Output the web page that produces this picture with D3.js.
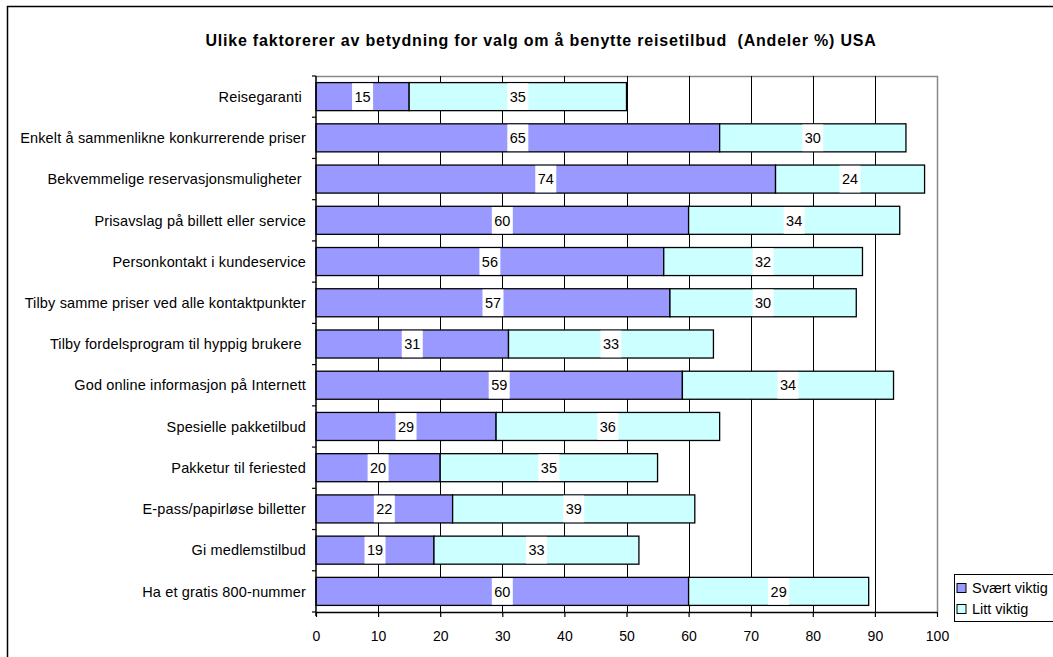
<!DOCTYPE html>
<html>
<head>
<meta charset="utf-8">
<script src="https://cdn.jsdelivr.net/npm/d3@7"></script>
<style>
  html, body { margin: 0; padding: 0; background: #fff; }
  svg { display: block; font-family: "Liberation Sans", Arial, sans-serif; }
  text { white-space: pre; }
</style>
</head>
<body>
<svg id="chart" width="1053" height="657"></svg>
<script>
// Factors affecting choice of travel services, USA (shares, %)
const categories = [
  "Reisegaranti ",
  "Enkelt å sammenlikne konkurrerende priser",
  "Bekvemmelige reservasjonsmuligheter ",
  "Prisavslag på billett eller service",
  "Personkontakt i kundeservice",
  "Tilby samme priser ved alle kontaktpunkter",
  "Tilby fordelsprogram til hyppig brukere ",
  "God online informasjon på Internett",
  "Spesielle pakketilbud",
  "Pakketur til feriested",
  "E-pass/papirløse billetter",
  "Gi medlemstilbud",
  "Ha et gratis 800-nummer"
];
const svaertViktig = [15, 65, 74, 60, 56, 57, 31, 59, 29, 20, 22, 19, 60];
const littViktig   = [35, 30, 24, 34, 32, 30, 33, 34, 36, 35, 39, 33, 29];
const seriesNames  = ["Svært viktig", "Litt viktig"];
const xTicks = [0, 10, 20, 30, 40, 50, 60, 70, 80, 90, 100];
const title = "Ulike faktorerer av betydning for valg om å benytte reisetilbud  (Andeler %) USA";

const colors = ["#9999FF", "#CCFFFF"];
const FONT = "'Liberation Sans', Arial, sans-serif";

const svg = d3.select("#chart");

// outer frame
svg.append("rect")
  .attr("x", 7.5).attr("y", 6.5)
  .attr("width", 1100).attr("height", 700)
  .attr("fill", "none").attr("stroke", "#000").attr("stroke-width", 1.5);

svg.append("text")
  .attr("x", 541).attr("y", 46)
  .attr("text-anchor", "middle")
  .attr("font-size", 16).attr("font-weight", "bold")
  .attr("letter-spacing", 0.8)
  .text(title);

const plot = { left: 316, right: 937, top: 76, bottom: 612 };

const x = d3.scaleLinear().domain([0, 100]).range([plot.left, plot.right]);
const y = d3.scaleBand().domain(categories).range([plot.top, plot.bottom])
  .paddingInner(0.32).paddingOuter(0.16);

// plot border (top/right grey)
svg.append("path")
  .attr("d", `M${plot.left},${plot.top + 0.5}H${plot.right + 0.5}V${plot.bottom}`)
  .attr("fill", "none").attr("stroke", "#888").attr("stroke-width", 1.5);

// vertical gridlines
svg.append("g")
  .selectAll("line")
  .data(xTicks.slice(1, -1))
  .join("line")
  .attr("x1", d => Math.round(x(d)) + 0.5).attr("x2", d => Math.round(x(d)) + 0.5)
  .attr("y1", plot.top).attr("y2", plot.bottom)
  .attr("stroke", "#000").attr("stroke-width", 1);

// stacked segments
const rows = categories.map((c, i) => ({
  cat: c,
  segs: [
    { s: 0, x0: 0, x1: svaertViktig[i], v: svaertViktig[i] },
    { s: 1, x0: svaertViktig[i], x1: svaertViktig[i] + littViktig[i], v: littViktig[i] }
  ]
}));

const rowG = svg.append("g").selectAll("g")
  .data(rows).join("g");

rowG.selectAll("rect")
  .data(d => d.segs.map(s => ({ ...s, cat: d.cat })))
  .join("rect")
  .attr("x", d => x(d.x0))
  .attr("y", d => y(d.cat))
  .attr("width", d => x(d.x1) - x(d.x0))
  .attr("height", y.bandwidth())
  .attr("fill", d => colors[d.s])
  .attr("stroke", "#000").attr("stroke-width", 1.3);

// value labels on white boxes
const lab = rowG.selectAll("g.lab")
  .data(d => d.segs.map(s => ({ ...s, cat: d.cat })))
  .join("g").attr("class", "lab")
  .attr("transform", d => `translate(${x((d.x0 + d.x1) / 2)},${y(d.cat) + y.bandwidth() / 2})`);

lab.append("rect")
  .attr("x", -10.5).attr("y", -y.bandwidth() / 2 + 0.7)
  .attr("width", 21).attr("height", y.bandwidth() - 1.4)
  .attr("fill", "#fff");

lab.append("text")
  .attr("text-anchor", "middle").attr("dy", "0.36em")
  .attr("font-size", 14.5)
  .text(d => d.v);

// y axis
const yAxis = svg.append("g");
yAxis.append("line")
  .attr("x1", plot.left).attr("x2", plot.left)
  .attr("y1", plot.top).attr("y2", plot.bottom + 4)
  .attr("stroke", "#000").attr("stroke-width", 1.5);
const bounds = categories.map(c => y(c) - y.step() * y.paddingInner() / 2);
bounds.push(plot.bottom);
bounds[0] = plot.top;
yAxis.selectAll("line.tk").data(bounds).join("line").attr("class", "tk")
  .attr("x1", plot.left - 4).attr("x2", plot.left)
  .attr("y1", d => d).attr("y2", d => d)
  .attr("stroke", "#000").attr("stroke-width", 1.2);
yAxis.selectAll("text").data(categories).join("text")
  .attr("x", plot.left - 10)
  .attr("y", d => y(d) + y.bandwidth() / 2)
  .attr("dy", "0.36em")
  .attr("text-anchor", "end")
  .attr("font-size", 14.5)
  .attr("letter-spacing", 0.15)
  .text(d => d);

// x axis
const xAxis = svg.append("g").attr("transform", `translate(0,${plot.bottom})`)
  .call(d3.axisBottom(x).tickValues(xTicks).tickSize(5).tickPadding(14).tickSizeOuter(0));
xAxis.select(".domain").attr("stroke", "#000").attr("stroke-width", 1.5);
xAxis.selectAll(".tick line").attr("stroke", "#000").attr("stroke-width", 1.2);
xAxis.selectAll(".tick text")
  .attr("font-size", 14).attr("font-family", FONT).attr("fill", "#000");

// legend
const leg = svg.append("g").attr("transform", "translate(954,574)");
leg.append("rect")
  .attr("x", 0.5).attr("y", 0.5).attr("width", 120).attr("height", 47)
  .attr("fill", "#fff").attr("stroke", "#000").attr("stroke-width", 1);
const li = leg.selectAll("g.item").data(seriesNames).join("g").attr("class", "item")
  .attr("transform", (d, i) => `translate(3,${14 + i * 21})`);
li.append("rect")
  .attr("x", 0).attr("y", -4.5).attr("width", 9).attr("height", 9)
  .attr("fill", (d, i) => colors[i]).attr("stroke", "#000").attr("stroke-width", 1);
li.append("text")
  .attr("x", 15).attr("dy", "0.36em")
  .attr("font-size", 14.5)
  .text(d => d);
</script>
</body>
</html>
